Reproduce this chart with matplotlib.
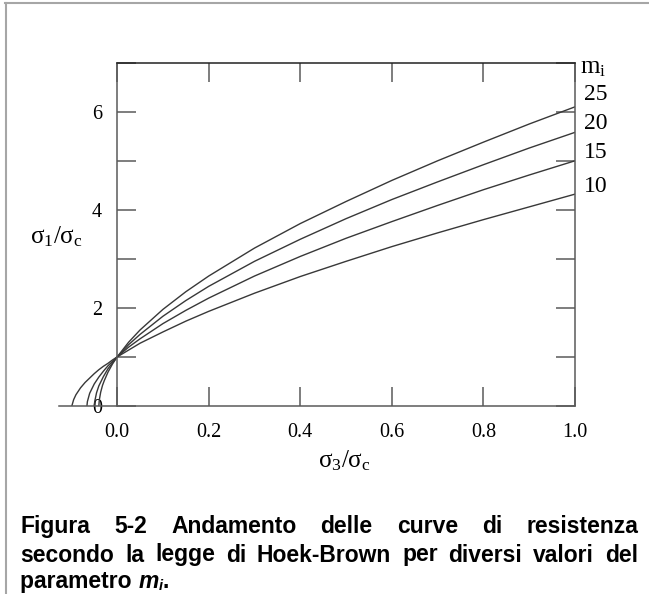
"""
Hoek-Brown strength envelopes for several values of m_i
(sigma_1/sigma_c vs sigma_3/sigma_c), with the Italian figure caption.
"""

import matplotlib

matplotlib.use("Agg")

import matplotlib.pyplot as plt
from matplotlib.lines import Line2D
from matplotlib.ticker import MultipleLocator

W, H = 649, 594  # output size in pixels (dpi 100)

# ---------------------------------------------------------------------------
# Data
# ---------------------------------------------------------------------------

MI_LABELS = ["25", "20", "15", "10"]

# sigma_3/sigma_c grid for the positive branch (shared by every curve)
S3_POS = [0.0, 0.025, 0.05, 0.1, 0.15, 0.2, 0.3, 0.4, 0.5, 0.6, 0.7, 0.8, 0.9, 1.0]

# negative (tensile) tails, different for each curve
S3_TAIL_25 = [-0.040, -0.039, -0.036, -0.032, -0.028, -0.020, -0.010]
S1_TAIL_25 = [0.0, 0.12, 0.28, 0.42, 0.52, 0.69, 0.86]
S1_POS_25 = [1.0, 1.30, 1.55, 1.97, 2.33, 2.65, 3.22, 3.72, 4.17, 4.60, 5.00, 5.38, 5.75, 6.10]

S3_TAIL_20 = [-0.050, -0.049, -0.045, -0.040, -0.030, -0.020, -0.010]
S1_TAIL_20 = [0.0, 0.09, 0.27, 0.41, 0.60, 0.76, 0.88]
S1_POS_20 = [1.0, 1.25, 1.46, 1.83, 2.15, 2.44, 2.95, 3.40, 3.82, 4.21, 4.57, 4.92, 5.26, 5.58]

S3_TAIL_15 = [-0.066, -0.065, -0.060, -0.050, -0.040, -0.030, -0.020, -0.010]
S1_TAIL_15 = [0.0, 0.09, 0.26, 0.45, 0.59, 0.71, 0.82, 0.91]
S1_POS_15 = [1.0, 1.20, 1.37, 1.68, 1.95, 2.20, 2.65, 3.05, 3.42, 3.76, 4.09, 4.41, 4.71, 5.00]

S3_TAIL_10 = [-0.099, -0.095, -0.090, -0.080, -0.070, -0.060, -0.050, -0.040, -0.030, -0.020, -0.010]
S1_TAIL_10 = [0.0, 0.13, 0.23, 0.37, 0.48, 0.57, 0.66, 0.74, 0.81, 0.87, 0.94]
S1_POS_10 = [1.0, 1.14, 1.28, 1.51, 1.73, 1.93, 2.30, 2.64, 2.95, 3.25, 3.53, 3.80, 4.06, 4.32]

X_TICKS = [0.0, 0.2, 0.4, 0.6, 0.8, 1.0]
Y_TICKS = [0, 2, 4, 6]

CAPTION_1 = "Figura 5-2 Andamento delle curve di resistenza"
CAPTION_2 = "secondo la legge di Hoek-Brown per diversi valori del"

# ---------------------------------------------------------------------------
# Style
# ---------------------------------------------------------------------------

CURVE_COLOR = "#383838"
AXIS_COLOR = "#5a5a5a"
FRAME_COLOR = "#a6a6a6"
SERIF = "Liberation Serif"
SANS = "Liberation Sans"

plt.rcParams["font.family"] = SERIF
plt.rcParams["mathtext.fontset"] = "custom"
plt.rcParams["mathtext.rm"] = SERIF


def fx(px):
    """Pixel x (from left) -> figure fraction."""
    return px / W


def fy(py):
    """Pixel y (from top) -> figure fraction."""
    return 1 - py / H


def justify(fig, renderer, words, x0, x1, y, **kw):
    """Place words on one line, spreading the gaps so it fills x0..x1."""
    texts = [fig.text(0, fy(y), w, ha="left", va="baseline", **kw) for w in words]
    widths = [t.get_window_extent(renderer).width for t in texts]
    gap = (x1 - x0 - sum(widths)) / (len(words) - 1)
    x = x0
    for t, w in zip(texts, widths):
        t.set_x(fx(x))
        x += w + gap


fig = plt.figure(figsize=(W / 100, H / 100), dpi=100)

# page frame (left and top edges of the text box)
fig.add_artist(Line2D([fx(5.5), fx(5.5)], [fy(3), 0], transform=fig.transFigure,
                      color=FRAME_COLOR, lw=1.5))
fig.add_artist(Line2D([fx(5), 1], [fy(3), fy(3)], transform=fig.transFigure,
                      color=FRAME_COLOR, lw=1.5))

# ---------------------------------------------------------------------------
# Axes
# ---------------------------------------------------------------------------

ax = fig.add_axes([fx(59), fy(406), fx(575) - fx(59), fy(62.7) - fy(406)])
ax.set_xlim(-0.127, 1.0)
ax.set_ylim(0, 7)

curves = [
    (S3_TAIL_25 + S3_POS, S1_TAIL_25 + S1_POS_25),
    (S3_TAIL_20 + S3_POS, S1_TAIL_20 + S1_POS_20),
    (S3_TAIL_15 + S3_POS, S1_TAIL_15 + S1_POS_15),
    (S3_TAIL_10 + S3_POS, S1_TAIL_10 + S1_POS_10),
]
for xs, ys in curves:
    ax.plot(xs, ys, color=CURVE_COLOR, lw=1.0)

ax.spines["left"].set_position(("data", 0))
ax.spines["top"].set_bounds(0, 1)
for side in ["left", "right", "bottom"]:
    ax.spines[side].set_color(AXIS_COLOR)
    ax.spines[side].set_linewidth(1.1)
ax.spines["top"].set_color("#222222")
ax.spines["top"].set_linewidth(1.1)

ax.set_xticks(X_TICKS)
ax.set_xticklabels([f"{v:.1f}" for v in X_TICKS])
ax.set_yticks(Y_TICKS)
ax.set_yticklabels([str(v) for v in Y_TICKS])
ax.yaxis.set_minor_locator(MultipleLocator(1))

ax.tick_params(axis="x", which="both", direction="in", length=14, width=1.1,
               color=AXIS_COLOR, top=True, labelsize=14.5, pad=12)
ax.tick_params(axis="y", which="both", direction="in", length=14, width=1.1,
               color=AXIS_COLOR, right=True, labelsize=14.5, pad=11)

# axis titles
fig.text(fx(56), fy(237), r"$\mathregular{σ_1/σ_c}$", ha="center", va="center",
         fontsize=18)
fig.text(fx(344), fy(461), r"$\mathregular{σ_3/σ_c}$", ha="center", va="center",
         fontsize=18)

# m_i legend at the right end of the curves
fig.text(fx(580), fy(68), r"$\mathregular{m_i}$", ha="left", va="center", fontsize=18)
for lbl, ly in zip(MI_LABELS, [94, 124, 153, 186]):
    fig.text(fx(584), fy(ly), lbl, ha="left", va="center", fontsize=17)

# ---------------------------------------------------------------------------
# Caption
# ---------------------------------------------------------------------------

renderer = fig.canvas.get_renderer()
cap_kw = dict(family=SANS, weight="bold", fontsize=16.5, color="black")
justify(fig, renderer, CAPTION_1.split(), 20.5, 638, 533, **cap_kw)
justify(fig, renderer, CAPTION_2.split(), 20.5, 638, 561.5, **cap_kw)

t = fig.text(fx(20.5), fy(588), "parametro ", ha="left", va="baseline", **cap_kw)
x = 20.5 + t.get_window_extent(renderer).width
t = fig.text(fx(x), fy(588), "m", ha="left", va="baseline", style="italic", **cap_kw)
x += t.get_window_extent(renderer).width
t = fig.text(fx(x), fy(590), "i", ha="left", va="baseline", style="italic",
             family=SANS, weight="bold", fontsize=10.5)
x += t.get_window_extent(renderer).width
fig.text(fx(x), fy(588), ".", ha="left", va="baseline", **cap_kw)

fig.savefig("out.png", dpi=100)
